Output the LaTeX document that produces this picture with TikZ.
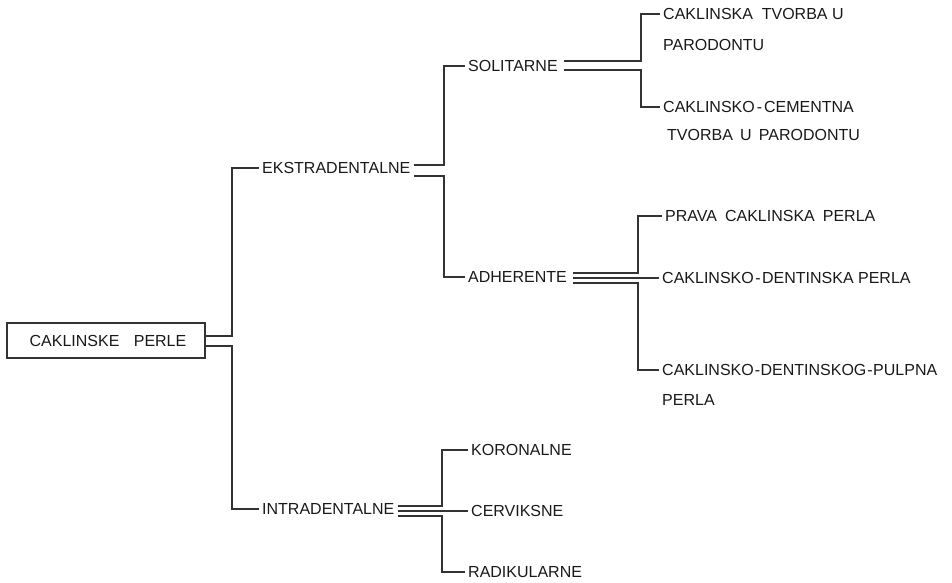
\documentclass[tikz,border=0pt]{standalone}
\usepackage{fontspec}
\setmainfont{Liberation Sans}
\begin{document}
\begin{tikzpicture}[x=1pt,y=-1pt,
  lbl/.style={anchor=west, inner xsep=3pt, inner ysep=0pt, text=black!90, font=\fontsize{16}{30}\selectfont},
  lbltwo/.style={anchor=north west, align=left, inner xsep=3pt, inner ysep=0pt, text=black!90},
  ln/.style={draw=black!80, line width=1.2pt}]
\useasboundingbox (0,0) rectangle (952,582);
% nodes
\node[draw=black!80, line width=1.3pt, minimum width=198pt, minimum height=35pt, inner sep=0pt,
      text=black!90, font=\fontsize{16}{30}\selectfont] (root) at (106,340.5) {\kern4pt CAKLINSKE\hspace{0.9em}PERLE};
\node[lbl] (eks) at (259,168) {EKSTRADENTALNE};
\node[lbl] (int) at (259,509) {INTRADENTALNE};
\node[lbl] (sol) at (465,66) {SOLITARNE};
\node[lbl] (adh) at (465,277) {ADHERENTE};
\node[lbltwo, font=\fontsize{16}{31}\selectfont] (ct1) at (660,8) {CAKLINSKA\hspace{0.55em}TVORBA U\\PARODONTU};
\coordinate (ct1in) at (660,14);
\node[lbltwo, font=\fontsize{16}{28}\selectfont] (ct2) at (660,101) {CAKLINSKO\kern2pt-\kern2pt CEMENTNA\\\kern4pt TVORBA\hspace{0.45em}U\hspace{0.45em}PARODONTU};
\coordinate (ct2in) at (660,107);
\node[lbl] (pr1) at (662,216) {PRAVA\hspace{0.5em}CAKLINSKA\hspace{0.5em}PERLA};
\node[lbl] (pr2) at (659,278) {CAKLINSKO\kern1.5pt-\kern1.5pt DENTINSKA PERLA};
\node[lbltwo, font=\fontsize{16}{30}\selectfont] (pr3) at (659,364) {CAKLINSKO\kern1pt-\kern0.5pt DENTINSKOG\kern1pt-\kern0.5pt PULPNA\\PERLA};
\coordinate (pr3in) at (659,370);
\node[lbl] (kor) at (468,450) {KORONALNE};
\node[lbl] (cer) at (468,511) {CERVIKSNE};
\node[lbl] (rad) at (465,572) {RADIKULARNE};
% connectors from root
\draw[ln] (root.east |- 0,336) -- (232,336) |- (eks.west);
\draw[ln] (root.east |- 0,346) -- (232,346) |- (int.west);
% from EKSTRADENTALNE
\draw[ln] (eks.east |- 0,165) -- (444,165) |- (sol.west);
\draw[ln] (eks.east |- 0,176) -- (444,176) |- (adh.west);
% from SOLITARNE
\draw[ln] (sol.east |- 0,61) ++(3,0) -- (641,61) |- (ct1in);
\draw[ln] (sol.east |- 0,70) ++(3,0) -- (641,70) |- (ct2in);
% from ADHERENTE
\draw[ln] (adh.east |- 0,273) ++(3,0) -- (638,273) |- (pr1.west);
\draw[ln] (adh.east |- pr2.west) ++(3,0) -- (pr2.west);
\draw[ln] (adh.east |- 0,283) ++(3,0) -- (638,283) |- (pr3in);
% from INTRADENTALNE
\draw[ln] (int.east |- 0,506) -- (442,506) |- (kor.west);
\draw[ln] (int.east |- cer.west) -- (cer.west);
\draw[ln] (int.east |- 0,516) -- (442,516) |- (rad.west);
\end{tikzpicture}
\end{document}
